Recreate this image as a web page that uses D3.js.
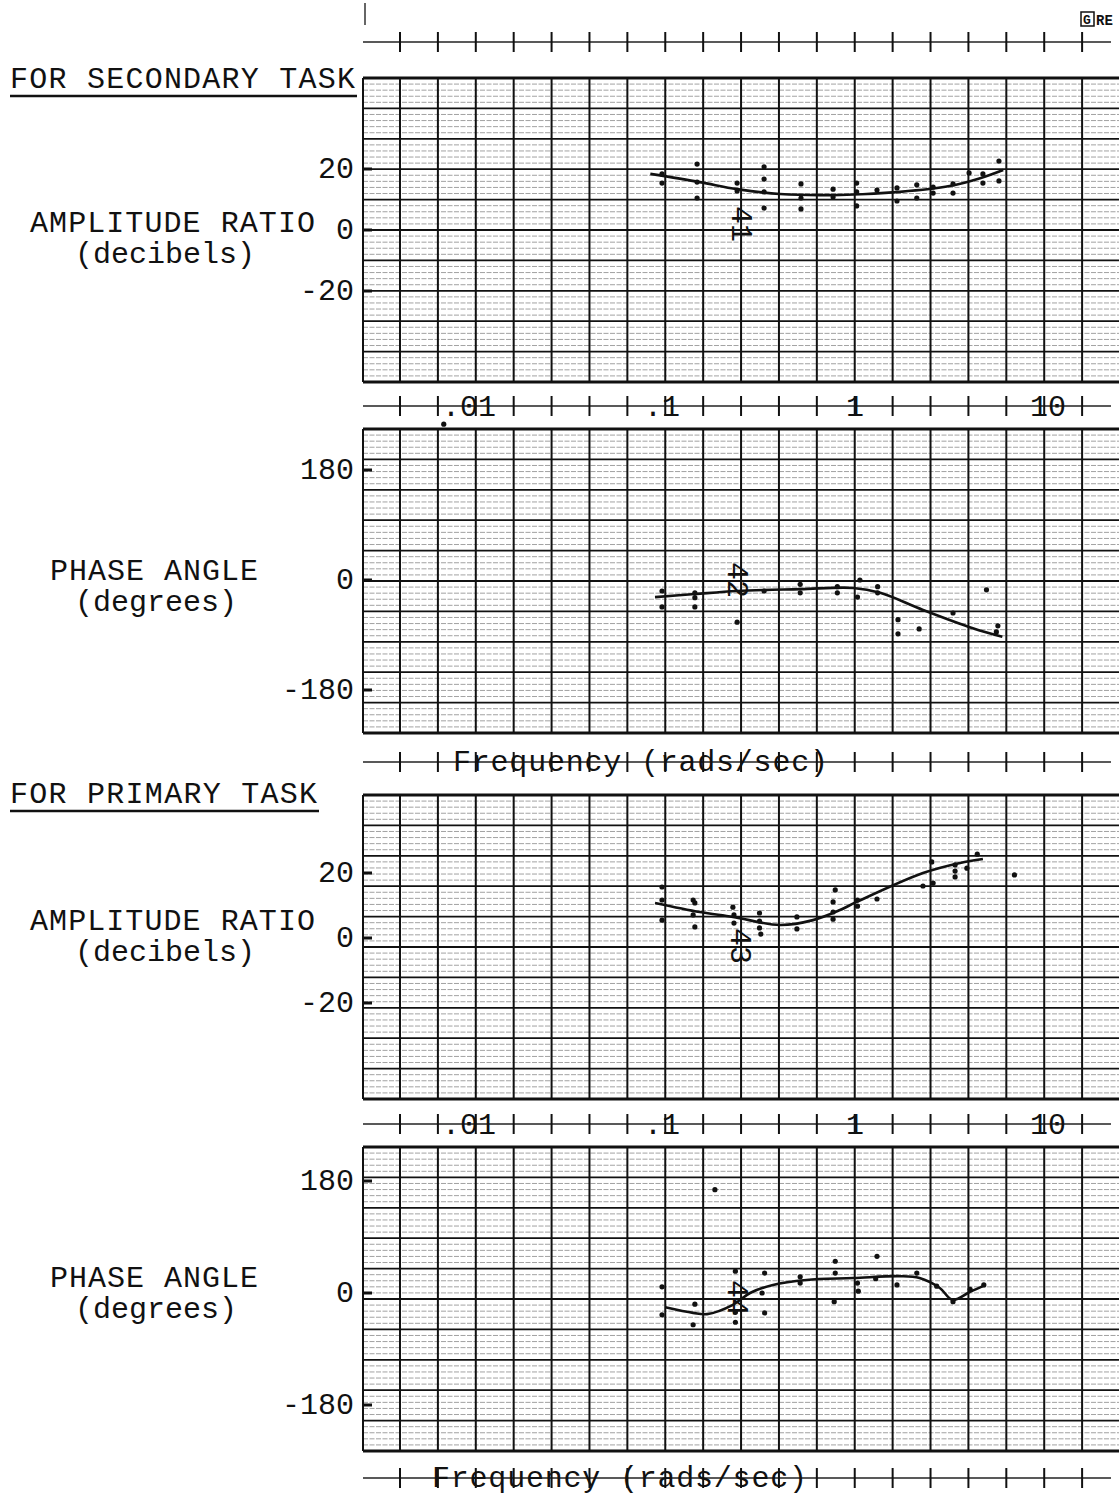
<!DOCTYPE html>
<html>
<head>
<meta charset="utf-8">
<script src="https://cdn.jsdelivr.net/npm/d3@7"></script>
<style>
  body { margin: 0; background: #fff; }
  text { font-family: 'Liberation Mono', 'DejaVu Sans Mono', monospace; fill: #111; }
</style>
</head>
<body>
<script>
const width = 1119;
const height = 1499;

// frequency axis labels
const freqTicks = [0.01, 0.1, 1, 10];
const freqTickLabels = ['.01', '.1', '1', '10'];
const ampTicks = [20, 0, -20];
const phaseTicks = [180, 0, -180];

// secondary task, amplitude ratio (dB)
const secAmpFreq = [0.10, 0.10, 0.152, 0.152, 0.152, 0.245, 0.245, 0.338, 0.338, 0.338, 0.338, 0.525, 0.525, 0.525, 0.77, 0.77, 1.02, 1.02, 1.02, 1.30, 1.65, 1.65, 2.09, 2.09, 2.54, 2.54, 3.22, 3.22, 3.90, 4.60, 4.60, 5.57, 5.57];
const secAmpDb = [18.4, 15.4, 21.6, 15.7, 10.5, 15.4, 12.8, 20.7, 16.7, 12.5, 7.2, 15.1, 10.5, 6.9, 13.4, 10.8, 15.4, 12.5, 7.9, 13.1, 13.8, 9.5, 14.8, 10.5, 14.1, 12.1, 15.1, 12.1, 18.7, 18.4, 15.4, 22.6, 16.1];
const secAmpFitFreq = [0.087, 0.157, 0.245, 0.409, 0.836, 1.71, 3.09, 4.45, 5.86];
const secAmpFitDb = [18.4, 15.7, 13.4, 11.8, 11.5, 12.5, 14.4, 17.0, 19.7];

// secondary task, phase angle (deg)
const secPhFreq = [0.0074, 0.10, 0.10, 0.148, 0.148, 0.148, 0.245, 0.338, 0.52, 0.52, 0.81, 0.81, 1.03, 1.06, 1.31, 1.31, 1.67, 1.67, 2.15, 3.22, 4.8, 5.4, 5.5];
const secPhDeg = [255, -18, -44, -21, -29, -44, -69, -18, -7, -21, -11, -21, -28, 0, -11, -21, -65, -88, -80, -54, -16, -85, -75];
const secPhFitFreq = [0.092, 0.148, 0.245, 0.52, 0.98, 1.35, 2.25, 4.08, 5.8];
const secPhFitDeg = [-28, -23, -18, -15, -13, -21, -49, -79, -93];

// primary task, amplitude ratio (dB)
const priAmpFreq = [0.10, 0.10, 0.10, 0.145, 0.148, 0.145, 0.148, 0.233, 0.236, 0.236, 0.32, 0.32, 0.32, 0.325, 0.50, 0.50, 0.77, 0.79, 0.77, 0.77, 1.03, 1.03, 1.30, 2.25, 2.54, 2.50, 3.3, 3.3, 3.3, 3.8, 4.3, 6.7];
const priAmpDb = [15.7, 11.7, 5.5, 11.7, 10.8, 7.1, 3.4, 9.5, 7.1, 4.6, 7.7, 5.2, 3.1, 1.2, 6.5, 2.8, 11.1, 14.8, 8.0, 5.8, 11.7, 9.8, 12.0, 16.0, 16.9, 23.4, 22.5, 20.6, 18.8, 21.5, 25.8, 19.4];
const priAmpFitFreq = [0.092, 0.157, 0.233, 0.409, 0.606, 0.836, 1.02, 2.25, 3.5, 4.6];
const priAmpFitDb = [10.8, 8.0, 6.5, 4.0, 5.5, 8.6, 11.1, 20.0, 23.1, 24.3];

// primary task, phase angle (deg)
const priPhFreq = [0.10, 0.10, 0.145, 0.148, 0.24, 0.24, 0.24, 0.34, 0.33, 0.34, 0.52, 0.52, 0.79, 0.79, 0.78, 1.03, 1.04, 1.30, 1.28, 1.65, 2.09, 2.65, 3.22, 3.95, 4.65, 0.188];
const priPhDeg = [10, -35, -51, -18, 35, -31, -47, 32, 0, -32, 26, 16, 51, 32, -14, 16, 3, 59, 23, 13, 32, 11, -14, 6, 13, 166];
const priPhFitFreq = [0.104, 0.145, 0.171, 0.233, 0.286, 0.376, 0.56, 0.98, 1.71, 2.16, 2.75, 3.2, 3.95, 4.6];
const priPhFitDeg = [-23, -32, -34, -19, 0, 13, 21, 24, 27, 24, 8, -11, 2, 11];

let svg = d3
  .select('body')
  .append('svg')
  .attr('width', width)
  .attr('height', height);

// chart paper geometry
const paperLeft = 363;
const panelH = 304;
const panelTops = [78, 429, 795, 1147];
const tickBarYs = [42, 406, 762, 1124, 1478];

let x = d3.scaleLog().domain([0.01, 10]).range([469, 1048]);
let gridX = d3.scaleLinear().domain([0, 19]).range([400, 1120]);
let gridCols = d3.range(0, 20).map((i) => gridX(i));

function drawPaper(top) {
  let g = svg.append('g');
  let rows = d3.range(0, 51);
  g.selectAll('line.row')
    .data(rows)
    .join('line')
    .attr('x1', paperLeft)
    .attr('x2', width)
    .attr('y1', (d) => top + (d * panelH) / 50)
    .attr('y2', (d) => top + (d * panelH) / 50)
    .attr('stroke', (d) => (d % 5 === 0 ? '#111' : '#8a8a8a'))
    .attr('stroke-width', (d) => (d === 0 || d === 50 ? 3 : d % 5 === 0 ? 1.8 : 0.8))
    .attr('stroke-dasharray', (d) => (d % 5 === 0 ? null : '5,1.5'));
  g.selectAll('line.col')
    .data([paperLeft].concat(gridCols))
    .join('line')
    .attr('x1', (d) => d)
    .attr('x2', (d) => d)
    .attr('y1', top)
    .attr('y2', top + panelH)
    .attr('stroke', '#111')
    .attr('stroke-width', 2);
}

function drawTickBar(y) {
  svg.append('line')
    .attr('x1', paperLeft)
    .attr('x2', width - 8)
    .attr('y1', y)
    .attr('y2', y)
    .attr('stroke', '#222')
    .attr('stroke-width', 1.5);
  svg.append('g')
    .selectAll('line')
    .data(gridCols.filter((c) => c < width - 10))
    .join('line')
    .attr('x1', (d) => d)
    .attr('x2', (d) => d)
    .attr('y1', y - 10)
    .attr('y2', y + 10)
    .attr('stroke', '#111')
    .attr('stroke-width', 2);
}

panelTops.forEach(drawPaper);
tickBarYs.forEach(drawTickBar);

// frequency labels on the middle bars
[406, 1124].forEach((y) => {
  svg.append('g')
    .selectAll('text')
    .data(freqTicks)
    .join('text')
    .attr('x', (d) => x(d))
    .attr('y', y + 10)
    .attr('text-anchor', 'middle')
    .attr('font-size', 30)
    .text((d, i) => freqTickLabels[i]);
});

['Frequency (rads/sec)', 'Frequency (rads/sec)'].forEach((t, i) => {
  svg.append('text')
    .attr('x', i === 0 ? 453 : 432)
    .attr('y', tickBarYs[2 + i * 2] + 9)
    .attr('font-size', 30)
    .attr('textLength', 375)
    .text(t);
});

// section headings
function heading(label, y, w) {
  svg.append('text')
    .attr('x', 10)
    .attr('y', y)
    .attr('font-size', 30)
    .attr('textLength', w)
    .text(label);
  svg.append('line')
    .attr('x1', 10)
    .attr('x2', 12 + w)
    .attr('y1', y + 8)
    .attr('y2', y + 8)
    .attr('stroke', '#111')
    .attr('stroke-width', 2.5);
}
heading('FOR SECONDARY TASK', 88, 345);
heading('FOR PRIMARY TASK', 803, 307);

// one panel: axis labels, ticks, fitted curve, points
function panel(opts) {
  let y = d3.scaleLinear().domain(opts.domain).range(opts.range);
  let g = svg.append('g');

  g.append('text')
    .attr('x', opts.titleX)
    .attr('y', opts.titleY)
    .attr('font-size', 30)
    .attr('textLength', opts.titleW)
    .text(opts.title);
  g.append('text')
    .attr('x', opts.unitX)
    .attr('y', opts.titleY + 31)
    .attr('font-size', 30)
    .text(opts.unit);

  g.selectAll('text.tick')
    .data(opts.ticks)
    .join('text')
    .attr('x', 354)
    .attr('y', (d) => y(d) + 9)
    .attr('text-anchor', 'end')
    .attr('font-size', 30)
    .text((d) => (d < 0 ? '-' + Math.abs(d) : d));
  g.selectAll('line.tick')
    .data(opts.ticks)
    .join('line')
    .attr('x1', paperLeft)
    .attr('x2', paperLeft + 9)
    .attr('y1', (d) => y(d))
    .attr('y2', (d) => y(d))
    .attr('stroke', '#111')
    .attr('stroke-width', 3);

  let line = d3
    .line()
    .x((d) => x(d[0]))
    .y((d) => y(d[1]))
    .curve(d3.curveCatmullRom.alpha(0.5));
  g.append('path')
    .datum(d3.zip(opts.fitFreq, opts.fitVal))
    .attr('d', line)
    .attr('fill', 'none')
    .attr('stroke', '#111')
    .attr('stroke-width', 2.6);

  g.selectAll('circle')
    .data(d3.zip(opts.freq, opts.val))
    .join('circle')
    .attr('cx', (d) => x(d[0]))
    .attr('cy', (d) => y(d[1]))
    .attr('r', 2.6)
    .attr('fill', '#111');

  // handwritten run number
  g.append('text')
    .attr('transform', `translate(${opts.runX},${opts.runY}) rotate(90)`)
    .attr('font-size', 30)
    .attr('font-family', 'DejaVu Sans')
    .text(opts.run);
}

panel({
  domain: [0, 20], range: [230, 169], ticks: ampTicks,
  title: 'AMPLITUDE RATIO', titleX: 30, titleY: 232, titleW: 285,
  unit: '(decibels)', unitX: 75,
  freq: secAmpFreq, val: secAmpDb, fitFreq: secAmpFitFreq, fitVal: secAmpFitDb,
  run: '41', runX: 732, runY: 206
});
panel({
  domain: [0, 180], range: [580, 470], ticks: phaseTicks,
  title: 'PHASE ANGLE', titleX: 50, titleY: 580, titleW: 208,
  unit: '(degrees)', unitX: 75,
  freq: secPhFreq, val: secPhDeg, fitFreq: secPhFitFreq, fitVal: secPhFitDeg,
  run: '42', runX: 728, runY: 562
});
panel({
  domain: [0, 20], range: [938, 873], ticks: ampTicks,
  title: 'AMPLITUDE RATIO', titleX: 30, titleY: 930, titleW: 285,
  unit: '(decibels)', unitX: 75,
  freq: priAmpFreq, val: priAmpDb, fitFreq: priAmpFitFreq, fitVal: priAmpFitDb,
  run: '43', runX: 731, runY: 928
});
panel({
  domain: [0, 180], range: [1293, 1181], ticks: phaseTicks,
  title: 'PHASE ANGLE', titleX: 50, titleY: 1287, titleW: 208,
  unit: '(degrees)', unitX: 75,
  freq: priPhFreq, val: priPhDeg, fitFreq: priPhFitFreq, fitVal: priPhFitDeg,
  run: '44', runX: 728, runY: 1280
});

// paper maker's mark and edge line at the top
svg.append('line')
  .attr('x1', 365).attr('x2', 365)
  .attr('y1', 3).attr('y2', 25)
  .attr('stroke', '#333').attr('stroke-width', 1.5);
svg.append('rect')
  .attr('x', 1081).attr('y', 12)
  .attr('width', 13).attr('height', 14)
  .attr('fill', 'none').attr('stroke', '#111').attr('stroke-width', 1.5);
svg.append('text')
  .attr('x', 1083).attr('y', 24)
  .attr('font-size', 13).attr('font-weight', 'bold')
  .attr('font-family', 'DejaVu Sans')
  .text('G');
svg.append('text')
  .attr('x', 1096).attr('y', 25)
  .attr('font-size', 14).attr('font-weight', 'bold')
  .attr('font-family', 'DejaVu Sans')
  .text('RE');
</script>
</body>
</html>
